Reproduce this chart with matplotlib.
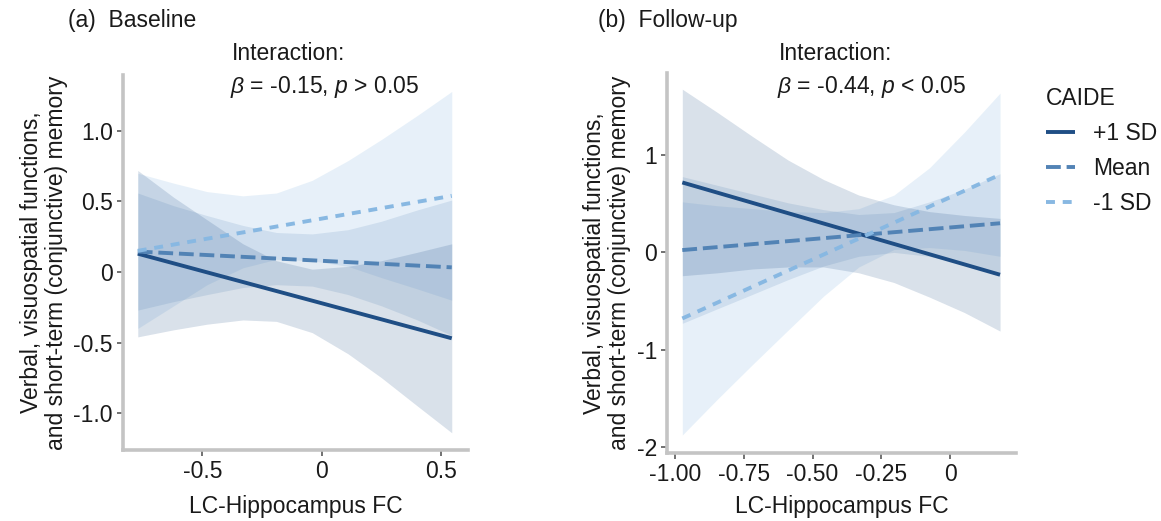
import matplotlib
matplotlib.use("Agg")
import matplotlib.pyplot as plt
from matplotlib.lines import Line2D

plt.rcParams['font.family'] = ['Liberation Sans', 'DejaVu Sans']
plt.rcParams['mathtext.fontset'] = 'custom'
plt.rcParams['mathtext.rm'] = 'Liberation Sans'
plt.rcParams['mathtext.it'] = 'Liberation Sans:italic'

# ---------------- data ----------------
series = ['+1 SD', 'Mean', '-1 SD']

# Panel (a) Baseline
a_line_x = [-0.77, 0.544]
a_plus = [0.13, -0.47]
a_mean = [0.145, 0.033]
a_minus = [0.15, 0.54]
a_band_x = [-0.77, -0.62, -0.48, -0.33, -0.19, -0.04, 0.11, 0.25, 0.40, 0.544]
a_plus_up = [0.72, 0.53, 0.37, 0.20, 0.08, 0.02, 0.04, 0.08, 0.14, 0.20]
a_plus_lo = [-0.46, -0.41, -0.37, -0.34, -0.35, -0.43, -0.58, -0.75, -0.95, -1.14]
a_mean_up = [0.56, 0.47, 0.40, 0.33, 0.28, 0.27, 0.30, 0.36, 0.44, 0.51]
a_mean_lo = [-0.27, -0.21, -0.16, -0.11, -0.09, -0.10, -0.16, -0.24, -0.34, -0.45]
a_minus_up = [0.70, 0.63, 0.57, 0.54, 0.56, 0.65, 0.79, 0.94, 1.11, 1.28]
a_minus_lo = [-0.40, -0.24, -0.09, 0.03, 0.09, 0.08, 0.04, -0.04, -0.12, -0.20]
a_xticks = [-0.5, 0, 0.5]
a_xticklabels = ['-0.5', '0', '0.5']
a_yticks = [1.0, 0.5, 0, -0.5, -1.0]
a_yticklabels = ['1.0', '0.5', '0', '-0.5', '-1.0']

# Panel (b) Follow-up
b_line_x = [-0.974, 0.182]
b_plus = [0.72, -0.23]
b_mean = [0.024, 0.30]
b_minus = [-0.68, 0.80]
b_band_x = [-0.974, -0.846, -0.717, -0.589, -0.460, -0.332, -0.204, -0.075, 0.053, 0.182]
b_plus_up = [1.68, 1.44, 1.19, 0.95, 0.75, 0.59, 0.49, 0.42, 0.38, 0.35]
b_plus_lo = [-0.24, -0.21, -0.17, -0.15, -0.15, -0.21, -0.31, -0.46, -0.62, -0.81]
b_mean_up = [0.78, 0.69, 0.60, 0.51, 0.44, 0.39, 0.41, 0.52, 0.65, 0.81]
b_mean_lo = [-0.73, -0.58, -0.43, -0.28, -0.14, -0.04, 0.00, -0.04, -0.12, -0.21]
b_minus_up = [0.52, 0.48, 0.45, 0.42, 0.41, 0.45, 0.59, 0.87, 1.24, 1.64]
b_minus_lo = [-1.88, -1.51, -1.15, -0.80, -0.45, -0.15, 0.03, 0.05, 0.02, -0.04]
b_xticks = [-1.0, -0.75, -0.5, -0.25, 0]
b_xticklabels = ['-1.00', '-0.75', '-0.50', '-0.25', '0']
b_yticks = [1, 0, -1, -2]
b_yticklabels = ['1', '0', '-1', '-2']

# ---------------- style ----------------
colors = {'+1 SD': '#1f4e85', 'Mean': '#5283b5', '-1 SD': '#88b8e2'}
alphas = {'+1 SD': 0.17, 'Mean': 0.16, '-1 SD': 0.2}
dashes = {'+1 SD': None, 'Mean': (3.8, 1.5), '-1 SD': (2.3, 2.0)}
LW = 2.8
FS = 16.5
spine_c = '#c4c4c4'
ylabel = 'Verbal, visuospatial functions,\nand short-term (conjunctive) memory'

fig = plt.figure(figsize=(11.61, 5.21), dpi=100)


def style_axes(ax, xlim, ylim, xt, xtl, yt, ytl, xpad):
    ax.set_xlim(*xlim)
    ax.set_ylim(*ylim)
    for s in ['top', 'right']:
        ax.spines[s].set_visible(False)
    for s in ['left', 'bottom']:
        ax.spines[s].set_color(spine_c)
        ax.spines[s].set_linewidth(2.6)
    ax.set_xticks(xt)
    ax.set_xticklabels(xtl)
    ax.set_yticks(yt)
    ax.set_yticklabels(ytl)
    ax.tick_params(direction='out', length=4, width=1.3, color='#666666',
                   labelsize=FS, labelcolor='#1a1a1a', pad=3)
    ax.set_xlabel('LC-Hippocampus FC', fontsize=FS, color='#1a1a1a', labelpad=xpad)
    ax.set_ylabel(ylabel, fontsize=FS, color='#1a1a1a', labelpad=4, linespacing=1.12)


def draw(ax, bx, bands, lx, lines):
    for name in ['-1 SD', 'Mean', '+1 SD']:
        lo, up = bands[name]
        ax.fill_between(bx, lo, up, color=colors[name], alpha=alphas[name], lw=0)
    for name in ['+1 SD', 'Mean', '-1 SD']:
        ln, = ax.plot(lx, lines[name], color=colors[name], lw=LW, solid_capstyle='butt',
                      dash_capstyle='butt')
        if dashes[name] is not None:
            ln.set_dashes(dashes[name])


axa = fig.add_axes([0.1057, 0.1363, 0.2974, 0.7198])
draw(axa, a_band_x,
     {'+1 SD': (a_plus_lo, a_plus_up), 'Mean': (a_mean_lo, a_mean_up), '-1 SD': (a_minus_lo, a_minus_up)},
     a_line_x, {'+1 SD': a_plus, 'Mean': a_mean, '-1 SD': a_minus})
style_axes(axa, (-0.833, 0.612), (-1.262, 1.397), a_xticks, a_xticklabels, a_yticks, a_yticklabels, 9)

axb = fig.add_axes([0.5742, 0.1305, 0.3009, 0.7300])
draw(axb, b_band_x,
     {'+1 SD': (b_plus_lo, b_plus_up), 'Mean': (b_mean_lo, b_mean_up), '-1 SD': (b_minus_lo, b_minus_up)},
     b_line_x, {'+1 SD': b_plus, 'Mean': b_mean, '-1 SD': b_minus})
style_axes(axb, (-1.031, 0.240), (-2.065, 1.85), b_xticks, b_xticklabels, b_yticks, b_yticklabels, 7)

# titles and annotations (pixel positions converted to figure fraction)
W, H = 1161, 521
def ft(x, y, s, **kw):
    fig.text(x / W, 1 - y / H, s, fontsize=FS, color='#1a1a1a', va='center', ha='left', **kw)

ft(68, 20, '(a)  Baseline')
ft(598, 20, '(b)  Follow-up')
ft(232, 53, 'Interaction:')
ft(230, 87, r'$\beta$ = -0.15, $p$ > 0.05')
ft(779, 53, 'Interaction:')
ft(777, 87, r'$\beta$ = -0.44, $p$ < 0.05')

handles = []
for name in series:
    h = Line2D([0], [0], color=colors[name], lw=LW, solid_capstyle='butt', dash_capstyle='butt')
    if dashes[name] is not None:
        h.set_dashes(dashes[name])
    handles.append(h)
leg = fig.legend(handles, series, title='CAIDE', loc='upper left',
                 bbox_to_anchor=(1046 / W, 1 - 87 / H), frameon=False,
                 fontsize=FS, title_fontsize=FS, handlelength=1.25, handletextpad=0.8,
                 labelspacing=0.52, alignment='left', borderaxespad=0, borderpad=0)
for t in leg.get_texts():
    t.set_color('#1a1a1a')
leg.get_title().set_color('#1a1a1a')

fig.savefig('out.png', dpi=100)
